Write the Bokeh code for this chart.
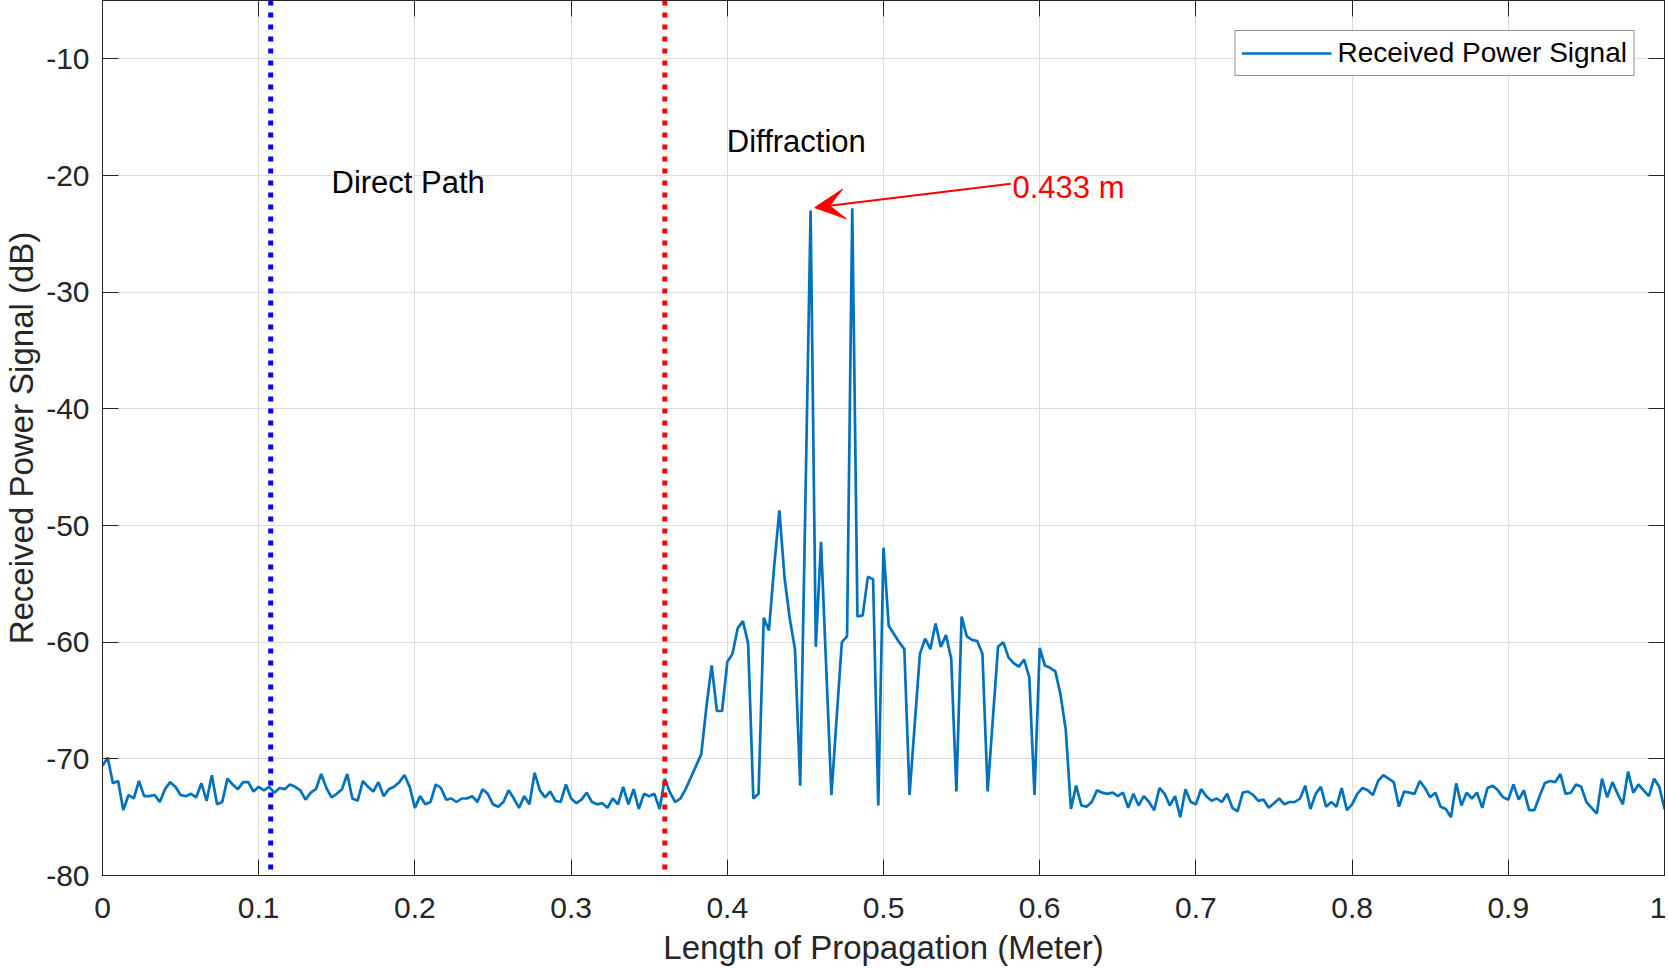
import numpy as np
from bokeh.plotting import figure
from bokeh.models import (ColumnDataSource, Span, Label, Arrow, VeeHead, LinearAxis,
                          FixedTicker, CustomJSTickFormatter, Legend, LegendItem)
from bokeh.embed import file_html
from bokeh.resources import INLINE

# ---------------- data ----------------
# samples every 1/300 m from 0 to 1 m
power_pre = [
    -70.6, -69.9, -72.1, -71.9, -74.4, -73.1, -73.4, -71.9, -73.2, -73.2,
    -73.1, -73.7, -72.6, -72.0, -72.4, -73.1, -73.2, -73.0, -73.3, -72.1,
    -73.6, -71.4, -73.9, -73.7, -71.7, -72.2, -72.6, -72.0, -72.0, -72.8,
    -72.4, -72.7, -72.4, -72.9, -72.5, -72.6, -72.2, -72.4, -72.7, -73.5,
    -72.9, -72.6, -71.3, -72.5, -73.3, -73.0, -72.6, -71.3, -73.4, -73.6,
    -71.9, -72.4, -72.8, -72.0, -73.2, -72.6,
    -72.4, -72.0, -71.4, -72.4, -74.2, -73.2, -73.9, -73.7, -72.2, -72.5,
    -73.5, -73.4, -73.7, -73.4, -73.4, -73.2, -73.7, -72.6, -73.0, -73.9,
    -74.1, -73.7, -72.7, -73.4, -74.2, -73.2, -73.9, -71.2, -72.7, -73.3,
    -72.8, -73.6, -73.7, -72.2, -73.4, -73.8, -73.5, -72.9, -73.7, -73.9,
    -73.8, -74.2, -73.4, -73.9, -72.4, -73.9, -72.6, -74.3, -73.0, -73.2,
    -73.0, -74.3, -71.7, -72.9, -73.7, -73.4,
    -72.6, -71.6,
]
power_diffraction = [
    -70.6, -69.6, -65.5, -62.0, -65.9, -65.9, -61.7, -61.0, -58.8, -58.2,
    -60.1, -73.4, -73.0, -57.9, -59.0, -53.5, -48.7, -54.5, -58.0, -60.6,
    -72.3, -48.0, -23.0, -60.4, -51.4, -62.2, -73.1, -66.5, -60.0, -59.5,
    -22.8, -57.8, -57.7, -54.4, -54.6, -74.0, -51.9, -58.6, -59.3, -60.0,
    -60.6, -73.1, -67.0, -61.0, -59.7, -60.6, -58.4, -60.4, -59.4, -61.4,
    -72.8, -57.8, -59.5, -59.8, -59.9, -61.0, -72.8, -66.6, -60.4, -60.0,
    -61.3, -61.8, -62.1, -61.5, -63.0, -73.1, -60.5, -62.0, -62.2, -62.5,
    -64.5, -67.5, -74.3,
]
power_post = [
    -72.3, -74.0, -74.1, -73.7, -72.7, -72.9, -73.0, -72.9, -73.2, -72.9,
    -74.2, -73.0, -74.0, -73.2, -73.7, -74.4, -72.5, -73.0, -74.0, -73.2,
    -75.0, -72.6, -73.7, -73.9, -72.6, -73.2, -73.6, -73.4, -73.7, -73.0,
    -74.2, -74.5, -72.9, -72.8, -73.1, -73.6, -73.5, -74.2, -73.8, -73.4,
    -73.9, -73.7, -73.7, -73.4, -72.3, -74.3, -73.0, -72.4, -74.1, -73.7,
    -74.1, -72.5, -74.4, -73.9, -73.0, -72.5, -72.7,
    -73.1, -71.9, -71.4, -71.7, -72.0, -74.1, -72.8, -72.9, -73.0, -71.9,
    -72.5, -73.3, -72.9, -74.1, -74.3, -75.0, -72.1, -74.0, -72.9, -73.4,
    -72.9, -74.2, -72.5, -72.3, -72.7, -73.3, -73.5, -72.2, -73.5, -72.7,
    -74.4, -74.4, -73.2, -72.1, -71.9, -72.0, -71.3, -73.0, -72.9, -72.2,
    -72.4, -73.7, -74.2, -74.7, -71.7, -73.3, -72.0, -73.0, -73.9, -71.1,
    -72.9, -72.2, -72.7, -73.2, -71.7, -72.4, -74.3,
]
sample_step = 1 / 300

marker_x = [0.1077, 0.36]
marker_colors = ["#0000FF", "#FF0000"]

note_texts = ["Direct Path", "Diffraction", "0.433 m"]
note_x = [0.1466, 0.3997, 0.5826]
note_y = [-20.6, -17.1, -21.0]
note_colors = ["#000000", "#000000", "#FF0000"]

arrow_start = (0.5815, -20.7)
arrow_end = (0.4560, -22.75)

x_ticks = [0, 0.1, 0.2, 0.3, 0.4, 0.5, 0.6, 0.7, 0.8, 0.9, 1]
x_tick_labels = ["0", "0.1", "0.2", "0.3", "0.4", "0.5", "0.6", "0.7", "0.8", "0.9", "1"]
y_ticks = [-80, -70, -60, -50, -40, -30, -20, -10]
y_tick_labels = ["-80", "-70", "-60", "-50", "-40", "-30", "-20", "-10"]

# ---------------- figure ----------------
power = power_pre + power_diffraction + power_post
length = [round(i * sample_step, 6) for i in range(len(power))]
src = ColumnDataSource(dict(x=length, y=power))

FONT = "Liberation Sans"
AX = "#262626"

p = figure(width=1666, height=968, x_range=(0, 1), y_range=(-80, -5),
           output_backend="svg", toolbar_location=None,
           min_border_left=90, min_border_right=2, min_border_top=0, min_border_bottom=90)
p.background_fill_color = "white"
p.border_fill_color = "white"
p.outline_line_color = AX
p.outline_line_width = 1

fmt_code = """
let best = 0;
for (let i = 0; i < tvals.length; i++) {
  if (Math.abs(tvals[i] - tick) < Math.abs(tvals[best] - tick)) best = i;
}
return tlabels[best];
"""

xa = p.xaxis[0]
xa.ticker = FixedTicker(ticks=x_ticks)
xa.formatter = CustomJSTickFormatter(args=dict(tvals=x_ticks, tlabels=x_tick_labels), code=fmt_code)
ya = p.yaxis[0]
ya.ticker = FixedTicker(ticks=y_ticks)
ya.formatter = CustomJSTickFormatter(args=dict(tvals=y_ticks, tlabels=y_tick_labels), code=fmt_code)

for ax in (xa, ya):
    ax.major_tick_in = 16
    ax.major_tick_out = 0
    ax.minor_tick_in = 0
    ax.minor_tick_out = 0
    ax.axis_line_color = AX
    ax.major_tick_line_color = AX
    ax.major_label_text_font = FONT
    ax.major_label_text_font_size = "30px"
    ax.major_label_text_color = AX
    ax.axis_label_text_font = FONT
    ax.axis_label_text_font_size = "33px"
    ax.axis_label_text_font_style = "normal"
    ax.axis_label_text_color = AX

xa.axis_label = "Length of Propagation (Meter)"
xa.major_label_standoff = 22
xa.axis_label_standoff = 8
ya.axis_label = "Received Power Signal (dB)"
ya.major_label_standoff = 13
ya.axis_label_standoff = 3

# ticks on the top and right sides (box)
for place, tks in (("right", y_ticks), ("above", x_ticks)):
    ax = LinearAxis(ticker=FixedTicker(ticks=tks),
                    formatter=CustomJSTickFormatter(code="return '';"),
                    major_tick_in=16, major_tick_out=0, minor_tick_in=0, minor_tick_out=0,
                    major_label_standoff=0, major_label_text_font_size="0px",
                    axis_line_color=AX, major_tick_line_color=AX)
    p.add_layout(ax, place)

p.xgrid.ticker = FixedTicker(ticks=x_ticks)
p.ygrid.ticker = FixedTicker(ticks=y_ticks)
for g in (p.xgrid, p.ygrid):
    g.grid_line_color = "#dcdcdc"
    g.grid_line_width = 1

r = p.line("x", "y", source=src, line_color="#0072BD", line_width=2.7)

for mx, mc in zip(marker_x, marker_colors):
    p.add_layout(Span(location=mx, dimension="height", line_color=mc,
                      line_width=5, line_dash="5 7"))

for t, tx, ty, tc in zip(note_texts, note_x, note_y, note_colors):
    p.add_layout(Label(x=tx, y=ty, text=t, text_font=FONT, text_font_size="31px",
                       text_color=tc, text_align="left", text_baseline="middle"))

p.add_layout(Arrow(end=VeeHead(size=30, fill_color="#FF0000", line_color="#FF0000"),
                   x_start=arrow_start[0], y_start=arrow_start[1],
                   x_end=arrow_end[0], y_end=arrow_end[1],
                   line_color="#FF0000", line_width=2))

legend = Legend(items=[LegendItem(label="Received Power Signal", renderers=[r])],
                location="top_right", margin=30, padding=6, spacing=0,
                glyph_width=90, glyph_height=28, label_height=28, label_standoff=6,
                label_text_font=FONT, label_text_font_size="28px", label_text_color="#000000",
                border_line_color=AX, border_line_width=1,
                background_fill_color="white", background_fill_alpha=1)
p.add_layout(legend)

open("out.html", "w").write(file_html(p, INLINE))
